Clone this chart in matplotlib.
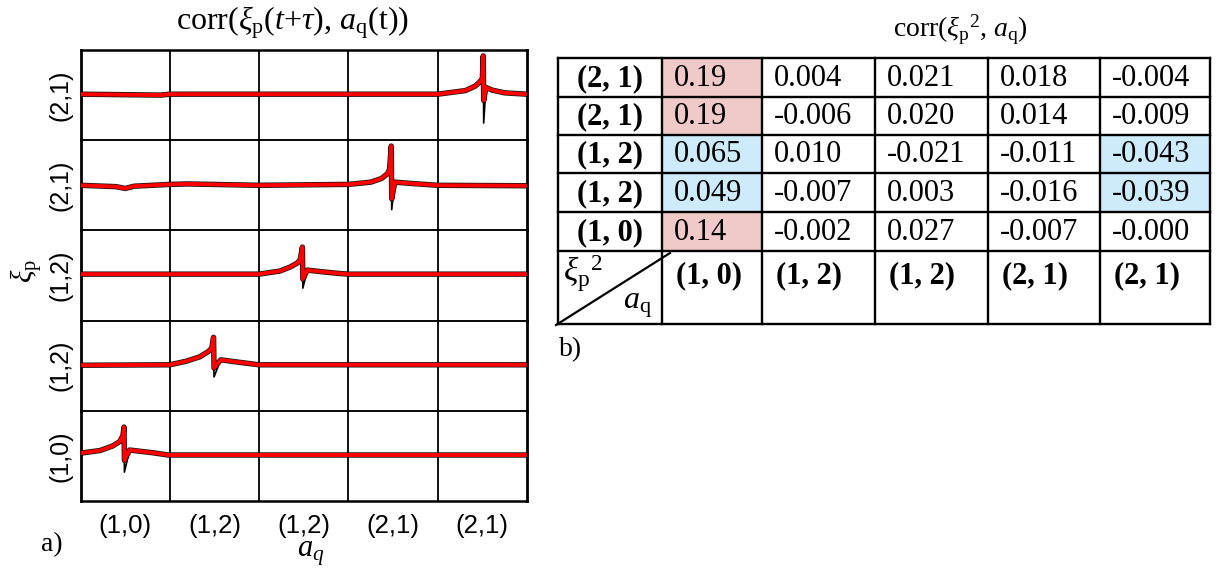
import matplotlib
matplotlib.use("Agg")
import matplotlib.pyplot as plt
from matplotlib.patches import Rectangle
import numpy as np

plt.rcParams['font.family'] = ['Liberation Sans', 'DejaVu Sans']
plt.rcParams['mathtext.fontset'] = 'custom'
plt.rcParams['mathtext.rm'] = 'Liberation Serif'
plt.rcParams['mathtext.it'] = 'Liberation Serif:italic'
plt.rcParams['mathtext.bf'] = 'Liberation Serif:bold'

# ---------------- data: panel a) ----------------
row_labels = ["(2,1)", "(2,1)", "(1,2)", "(1,2)", "(1,0)"]
col_labels = ["(1,0)", "(1,2)", "(1,2)", "(2,1)", "(2,1)"]

red_x = [
    [0, 0.9, 1.0, 2.5, 4.0, 4.31, 4.42, 4.47, 4.50, 4.51, 4.515, 4.54, 4.61, 4.75, 5.0],
    [0, 0.4, 0.5, 0.6, 1.0, 1.2, 2.0, 3.0, 3.25, 3.37, 3.44, 3.46, 3.48, 3.485, 3.52, 3.71, 4.0, 5.0],
    [0, 2.0, 2.235, 2.35, 2.43, 2.46, 2.485, 2.49, 2.54, 2.72, 2.87, 3.0, 5.0],
    [0, 1.0, 1.185, 1.34, 1.435, 1.47, 1.49, 1.495, 1.57, 1.80, 2.0, 5.0],
    [0, 0.22, 0.36, 0.44, 0.475, 0.487, 0.492, 0.55, 0.81, 0.98, 5.0],
]
red_y = [
    [0.02, 0.0, 0.02, 0.02, 0.02, 0.10, 0.20, 0.29, 0.37, 0.87, -0.12, 0.17, 0.11, 0.05, 0.02],
    [0.0, -0.03, -0.07, -0.02, 0.02, 0.03, 0.0, 0.02, 0.07, 0.15, 0.26, 0.35, 0.87, -0.30, 0.07, 0.04, 0.0, -0.01],
    [0.03, 0.03, 0.10, 0.19, 0.28, 0.35, 0.63, -0.08, 0.12, 0.08, 0.05, 0.03, 0.03],
    [0.01, 0.02, 0.10, 0.20, 0.32, 0.39, 0.63, -0.05, 0.13, 0.07, 0.02, 0.02],
    [0.06, 0.12, 0.22, 0.32, 0.45, 0.64, -0.10, 0.13, 0.07, 0.02, 0.02],
]
# deepest point of the thin black traces at the spike
black_dip_y = [-0.62, -0.54, -0.28, -0.25, -0.36]

# ---------------- data: panel b) ----------------
table_row_labels = ["(2, 1)", "(2, 1)", "(1, 2)", "(1, 2)", "(1, 0)"]
table_col_labels = ["(1, 0)", "(1, 2)", "(1, 2)", "(2, 1)", "(2, 1)"]
table_values = [
    ["0.19", "0.004", "0.021", "0.018", "-0.004"],
    ["0.19", "-0.006", "0.020", "0.014", "-0.009"],
    ["0.065", "0.010", "-0.021", "-0.011", "-0.043"],
    ["0.049", "-0.007", "0.003", "-0.016", "-0.039"],
    ["0.14", "-0.002", "0.027", "-0.007", "-0.000"],
]
pink_cells = [(0, 0), (1, 0), (4, 0)]
blue_cells = [(2, 0), (3, 0), (2, 4), (3, 4)]

PINK = '#F0C9C9'
BLUE = '#CDEBFA'

W, H = 1224, 571
fig = plt.figure(figsize=(W / 100, H / 100), dpi=100)

def fx(px):
    return px / W

def fy(py):
    return 1 - py / H

# ---------------- panel a) ----------------
L, R, T, RH = 80.5, 527, 50, 90.2
nrows = len(row_labels)
for i in range(nrows):
    top = T + i * RH
    ax = fig.add_axes([fx(L), fy(top + RH), (R - L) / W, RH / H])
    ax.set_xlim(0, 5)
    ax.set_ylim(-1, 1)
    xs = np.array(red_x[i])
    ys = np.array(red_y[i])
    by = ys.copy()
    imin = int(np.argmin(ys))
    by[imin] = black_dip_y[i]
    ax.plot(xs, ys, color='#151515', lw=3.9, solid_joinstyle='round',
            solid_capstyle='butt', zorder=2)
    ax.plot(xs, by, color='black', lw=1.2, zorder=2)
    ax.plot(xs, ys, color='#FF0000', lw=2.8, solid_joinstyle='round', zorder=3)

    ax.set_xticks(np.arange(1, 5), minor=True)
    ax.grid(which='minor', axis='x', color='black', lw=1.3)
    ax.set_yticks([0])
    ax.set_yticklabels([row_labels[i]], rotation=90, va='center', fontsize=18)
    ax.tick_params(axis='y', length=0, pad=6)
    ax.tick_params(axis='x', which='both', length=0)
    if i == nrows - 1:
        ax.set_xticks(np.arange(5) + 0.5)
        ax.set_xticklabels(col_labels, fontsize=18.5)
        ax.tick_params(axis='x', pad=9)
    else:
        ax.set_xticks([])
    for s in ['left', 'right']:
        ax.spines[s].set_linewidth(2.0)
    ax.spines['top'].set_linewidth(1.8 if i == 0 else 1.1)
    ax.spines['bottom'].set_linewidth(1.8 if i == nrows - 1 else 1.1)
    ax.patch.set_alpha(0)

fig.text(fx(292), fy(23), r"corr($\xi_{\rm p}$($t$+$\tau$), $a_{\rm q}$(t))",
         ha='center', va='center', fontsize=23, family='Liberation Serif')
fig.text(fx(27), fy(271), r"$\xi_{\rm p}$", rotation=90, ha='center', va='center',
         fontsize=21)
fig.text(fx(311), fy(553), r"$a_q$", ha='center', va='center', fontsize=22)
fig.text(fx(52), fy(545), "a)", ha='center', va='center', fontsize=20,
         family='Liberation Serif')

# ---------------- panel b) ----------------
tab = fig.add_axes([0, 0, 1, 1])
tab.set_xlim(0, W)
tab.set_ylim(H, 0)
tab.axis('off')

col_edges = [558, 662, 762, 875, 988, 1100, 1210]
row_edges = [58, 97, 135, 173, 212, 251, 324]

for (r, c) in pink_cells:
    tab.add_patch(Rectangle((col_edges[c + 1], row_edges[r]),
                            col_edges[c + 2] - col_edges[c + 1],
                            row_edges[r + 1] - row_edges[r], color=PINK, lw=0))
for (r, c) in blue_cells:
    tab.add_patch(Rectangle((col_edges[c + 1], row_edges[r]),
                            col_edges[c + 2] - col_edges[c + 1],
                            row_edges[r + 1] - row_edges[r], color=BLUE, lw=0))

for yv in row_edges:
    tab.plot([col_edges[0], col_edges[-1]], [yv, yv], color='black', lw=1.7,
             solid_capstyle='projecting')
for xv in col_edges:
    tab.plot([xv, xv], [row_edges[0], row_edges[-1]], color='black', lw=1.7,
             solid_capstyle='projecting')

for r, lab in enumerate(table_row_labels):
    yc = (row_edges[r] + row_edges[r + 1]) / 2 + 1
    tab.text((col_edges[0] + col_edges[1]) / 2, yc, lab, ha='center', va='center',
             fontsize=22, fontweight='bold', family='Liberation Serif')
    for c, val in enumerate(table_values[r]):
        tab.text(col_edges[c + 1] + 12, yc, val, ha='left', va='center',
                 fontsize=22, family='Liberation Serif')

for c, lab in enumerate(table_col_labels):
    tab.text(col_edges[c + 1] + 14, 276, lab, ha='left', va='center',
             fontsize=22, fontweight='bold', family='Liberation Serif')

# corner cell with diagonal
tab.plot([556, 670], [325, 253], color='black', lw=1.6, clip_on=False)
tab.text(563, 253, r"$\xi_{\rm p}{}^{2}$", ha='left', va='top', fontsize=24)
tab.text(652, 320, r"$a_{\rm q}$", ha='right', va='bottom', fontsize=23)

fig.text(fx(960), fy(30), r"corr($\xi_{\rm p}{}^{2}$, $a_{\rm q}$)",
         ha='center', va='center', fontsize=20, family='Liberation Serif')
fig.text(fx(571), fy(350), "b)", ha='center', va='center', fontsize=20,
         family='Liberation Serif')

fig.savefig("out.png", dpi=100)
